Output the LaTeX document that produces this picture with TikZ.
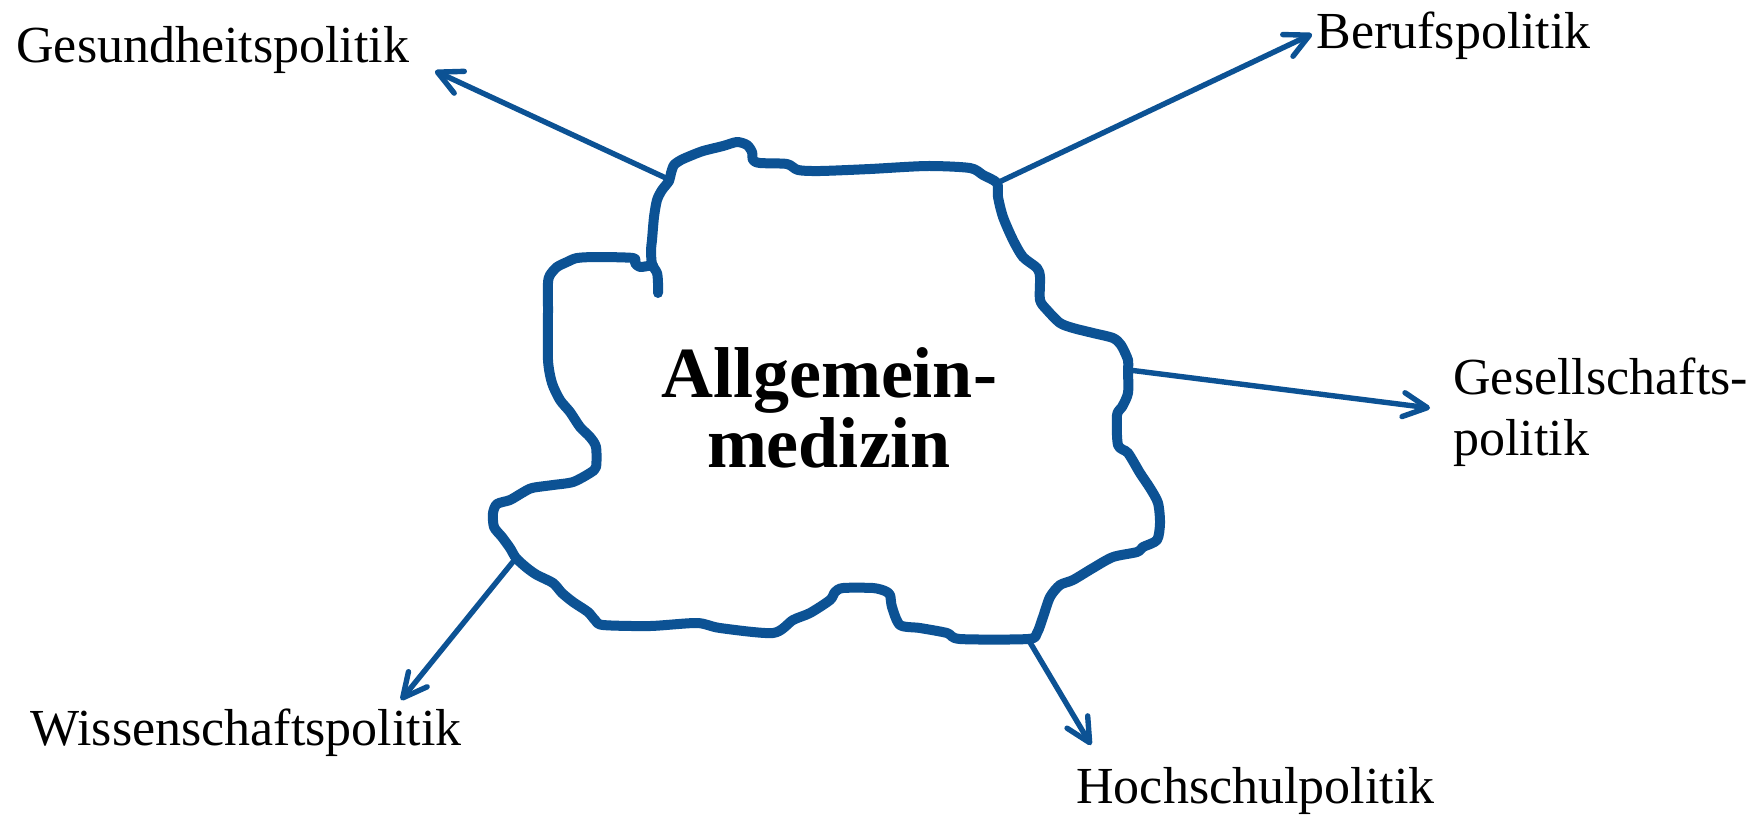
\documentclass[tikz,border=0pt]{standalone}
\usepackage{fontspec}
\setmainfont{Liberation Serif}
\usetikzlibrary{arrows.meta}
\definecolor{outlineblue}{RGB}{12,82,148}
\begin{document}
\begin{tikzpicture}[x=0.5pt,y=-0.5pt,
  lbl/.style={inner sep=0pt,anchor=base west,font=\fontsize{26}{30.5}\selectfont},
  border/.style={draw=outlineblue,line width=5pt,line cap=round,line join=round},
  pointer/.style={draw=outlineblue,line width=2.7pt,line cap=round,
    -{Straight Barb[length=12pt,width=12pt,round]}}]
\useasboundingbox (0,0) rectangle (1748,815);
\fill[white] (0,0) rectangle (1748,815);

% outline
\draw[border] plot[smooth,tension=0.45] coordinates {
(658,293) (658,283) (657,273) (652,264) (651,250) (652,240) (654,217) (657,200)
(662,190) (669,181) (671,173) (674,165) (681,160) (690,156) (703,151) (723,146)
(737,142) (747,145) (752,152) (753,160) (760,163) (787,164) (798,170) (820,171)
(870,169) (927,166) (970,168) (983,175) (997,183) (998,197) (1003,217) (1013,240)
(1023,257) (1037,268) (1040,277) (1040,300) (1047,310) (1060,323) (1073,328)
(1093,333) (1113,338) (1121,345) (1128,360) (1128,370) (1128,393) (1122,407)
(1117,415) (1118,445) (1128,453) (1140,473) (1150,488) (1158,503) (1160,523)
(1157,540) (1143,547) (1137,552) (1113,557) (1093,568) (1073,580) (1060,585)
(1050,597) (1043,617) (1037,633) (1028,639) (960,639) (947,633) (920,628)
(900,625) (892,607) (890,595) (885,591) (873,588) (843,588) (835,592) (830,600)
(810,613) (793,620) (773,633) (720,628) (697,623) (650,626) (603,625) (595,620)
(588,612) (573,602) (562,593) (553,583) (537,575) (527,568) (516,558) (510,548)
(502,537) (494,527) (493,513) (497,504) (510,500) (522,493) (532,488) (553,485)
(573,482) (590,473) (596,467) (596,447) (590,437) (580,427) (570,412) (560,400)
(552,383) (548,360) (548,310) (548,283) (550,275) (557,267) (567,262) (577,258)
(597,257) (633,258) (635,263) (640,267) (653,265)};

% junctions on the outline
\coordinate (jG) at (668,179);
\coordinate (jB) at (997,183);
\coordinate (jS) at (1129,370);
\coordinate (jW) at (516,558);
\coordinate (jH) at (1028,639);

% arrow tips
\coordinate (tG) at (435,71);
\coordinate (tB) at (1312,34);
\coordinate (tS) at (1430,408);
\coordinate (tW) at (401,700);
\coordinate (tH) at (1091,745);

% labels
\node[lbl] (gesund) at (16,62) {Gesundheitspolitik};
\node[lbl] (beruf) at (1316,48) {Berufspolitik};
\node[inner sep=0pt,anchor=west,align=left,font=\fontsize{26}{30.5}\selectfont]
  (gesell) at (1453,412) {Gesellschafts-\\politik};
\node[lbl] (wiss) at (30,745) {Wissenschaftspolitik};
\node[lbl] (hoch) at (1076,803) {Hochschulpolitik};
\node[inner sep=0pt,align=center,font=\fontsize{36}{35}\selectfont\bfseries]
  (center) at (829,408) {Allgemein-\\medizin};

% connectors
\draw[pointer] (jG) -- (tG);
\draw[pointer] (jB) -- (tB);
\draw[pointer] (jS) -- (tS);
\draw[pointer] (jW) -- (tW);
\draw[pointer] (jH) -- (tH);
\end{tikzpicture}
\end{document}
